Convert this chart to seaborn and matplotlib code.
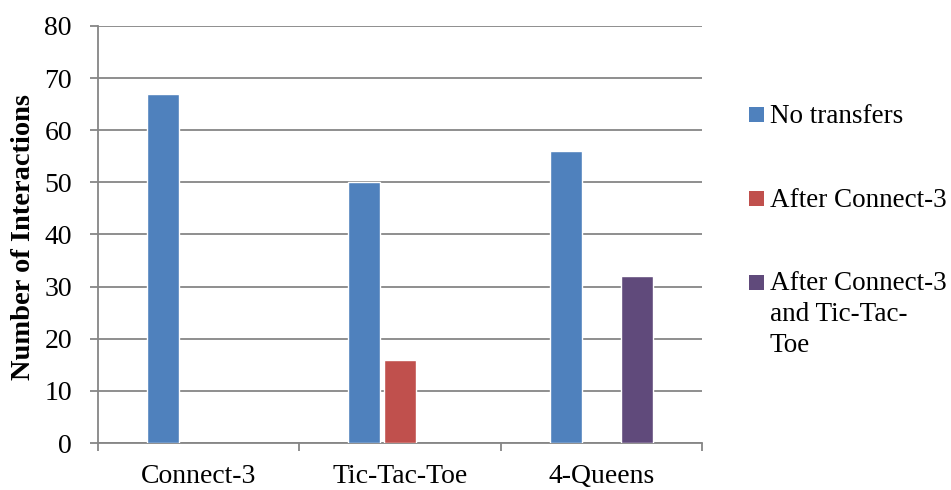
import numpy as np
import pandas as pd
import matplotlib
matplotlib.use("Agg")
import matplotlib.pyplot as plt
from matplotlib.patches import Rectangle
import seaborn as sns

# Data
games = ["Connect-3", "Tic-Tac-Toe", "4-Queens"]
series = ["No transfers", "After Connect-3", "After Connect-3\nand Tic-Tac-\nToe"]
no_transfers = [67, 50, 56]
after_connect3 = [np.nan, 16, np.nan]
after_both = [np.nan, np.nan, 32]
colors = ["#4F81BD", "#C0504D", "#604A7B"]
y_ticks = [0, 10, 20, 30, 40, 50, 60, 70, 80]

rows = []
for name, vals in zip(series, [no_transfers, after_connect3, after_both]):
    for g, v in zip(games, vals):
        rows.append({"Game": g, "Series": name, "Value": v})
df = pd.DataFrame(rows)

sns.set_theme(style="white")
plt.rcParams["font.family"] = ["Liberation Serif", "DejaVu Serif"]

W, H = 951, 490
fig = plt.figure(figsize=(W / 100, H / 100), dpi=100)
ax = fig.add_axes([98 / W, 47 / H, 604 / W, 417 / H])

sns.barplot(data=df.dropna(), x="Game", y="Value", hue="Series",
            order=games, hue_order=series, palette=colors,
            width=0.53, gap=0.1, dodge=True, saturation=1,
            legend=False, ax=ax, zorder=3)

grid_c = "#868686"
ax.set_xlim(-0.5, 2.5)
ax.set_ylim(0, 80)
ax.set_yticks(y_ticks)
ax.yaxis.grid(True, color=grid_c, linewidth=1.3, zorder=0)
ax.set_axisbelow(True)
for s in ["top", "right"]:
    ax.spines[s].set_visible(False)
ax.spines["left"].set_color(grid_c)
ax.spines["left"].set_linewidth(1.3)
ax.spines["bottom"].set_color(grid_c)
ax.spines["bottom"].set_linewidth(1.3)

ax.tick_params(axis="y", which="major", left=True, length=5.8, width=1.3,
               color=grid_c, labelsize=20, pad=13, labelcolor="black")
# category boundary ticks on the x axis, labels at category centres
ax.set_xticks([-0.5, 0.5, 1.5, 2.5], minor=True)
ax.tick_params(axis="x", which="minor", bottom=True, length=5.8, width=1.3,
               color=grid_c)
ax.tick_params(axis="x", which="major", bottom=False, length=0,
               labelsize=20, pad=15, labelcolor="black")
ax.set_xlabel("")
ax.set_ylabel("Number of Interactions", fontsize=20.5, fontweight="bold",
              color="black")
ax.yaxis.set_label_coords(-0.102, 0.495)

# Legend drawn at the right of the plot area
leg_y = [115, 198.5, 282.5]
for name, col, yc in zip(series, colors, leg_y):
    fig.patches.append(Rectangle((749 / W, 1 - (yc + 7.5) / H), 15 / W, 15 / H,
                                 transform=fig.transFigure, facecolor=col,
                                 edgecolor="none"))
    fig.text(770 / W, 1 - (yc - 11) / H, name, fontsize=19.5, color="black",
             va="top", ha="left", linespacing=1.3)

fig.savefig("out.png", dpi=100, facecolor="white")
